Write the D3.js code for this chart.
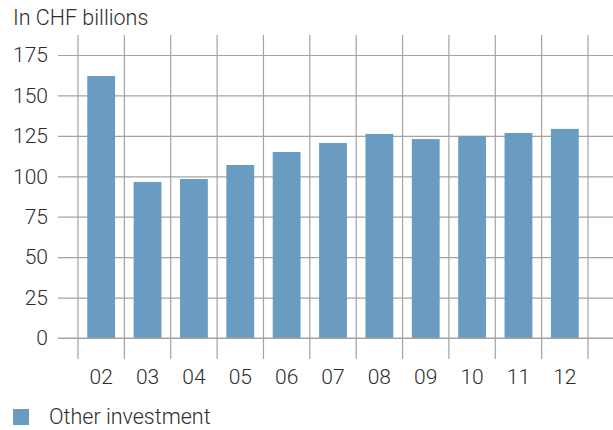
<!DOCTYPE html>
<html>
<head>
<meta charset="utf-8">
<script src="https://cdn.jsdelivr.net/npm/d3@7"></script>
<style>
  html, body { margin: 0; padding: 0; background: #fff; }
  svg { display: block; }
  text { font-family: Roboto, "Liberation Sans", Arial, sans-serif; font-weight: 300; fill: #2e2e2e; }
</style>
</head>
<body>
<svg id="chart" width="613" height="430"></svg>
<script>
// Other investment, CHF billions, 2002–2012
const years = ["02", "03", "04", "05", "06", "07", "08", "09", "10", "11", "12"];
const otherInvestment = [162, 96.5, 98.3, 107, 115, 120.6, 126.2, 123, 125, 126.8, 129.3];
const yTicks = [0, 25, 50, 75, 100, 125, 150, 175];
const seriesName = "Other investment";
const unitLabel = "In CHF billions";

const barColor = "#6a9bc0";
const gridColor = "#a3a3a3";

const svg = d3.select("#chart");

const x = d3.scaleBand()
  .domain(years)
  .range([78, 588])
  .paddingInner(0.4)
  .paddingOuter(0.2);

const y = d3.scaleLinear()
  .domain([0, 175])
  .range([338, 55]);

// Horizontal grid lines with value labels
const yAxis = d3.axisLeft(y)
  .tickValues(yTicks)
  .tickSize(-(613 - 58))
  .tickFormat(d3.format("d"));

const gy = svg.append("g")
  .attr("transform", "translate(58,0)")
  .call(yAxis);
gy.select(".domain").remove();
gy.selectAll(".tick line").attr("stroke", gridColor).attr("stroke-width", 1.2);
gy.selectAll(".tick text")
  .attr("x", -10)
  .attr("dy", "0.32em")
  .style("font-size", "21px");

// Vertical separators between year bands
const edges = d3.range(years.length + 1).map(i => x.range()[0] + i * x.step());
svg.append("g")
  .selectAll("line")
  .data(edges)
  .join("line")
  .attr("x1", d => d)
  .attr("x2", d => d)
  .attr("y1", 35)
  .attr("y2", 359)
  .attr("stroke", gridColor)
  .attr("stroke-width", 1.2);

// Bars
svg.append("g")
  .selectAll("rect")
  .data(years.map((yr, i) => ({ yr, v: otherInvestment[i] })))
  .join("rect")
  .attr("x", d => x(d.yr))
  .attr("width", x.bandwidth())
  .attr("y", d => y(d.v))
  .attr("height", d => y(0) - y(d.v))
  .attr("fill", barColor);

// Zero line over bars
svg.append("line")
  .attr("x1", 58).attr("x2", 613)
  .attr("y1", y(0)).attr("y2", y(0))
  .attr("stroke", gridColor).attr("stroke-width", 1.2);

// Year labels
const xAxis = d3.axisBottom(x).tickSize(0).tickPadding(0);
const gx = svg.append("g")
  .attr("transform", "translate(0,384)")
  .call(xAxis);
gx.select(".domain").remove();
gx.selectAll(".tick text")
  .attr("dy", 0)
  .attr("y", 0)
  .style("font-size", "21px");

// Unit label
svg.append("text")
  .attr("x", 13)
  .attr("y", 25)
  .style("font-size", "21.5px")
  .text(unitLabel);

// Legend
svg.append("rect")
  .attr("x", 13).attr("y", 409)
  .attr("width", 16).attr("height", 16)
  .attr("fill", barColor);
svg.append("text")
  .attr("x", 49)
  .attr("y", 424)
  .style("font-size", "21.5px")
  .text(seriesName);
</script>
</body>
</html>
